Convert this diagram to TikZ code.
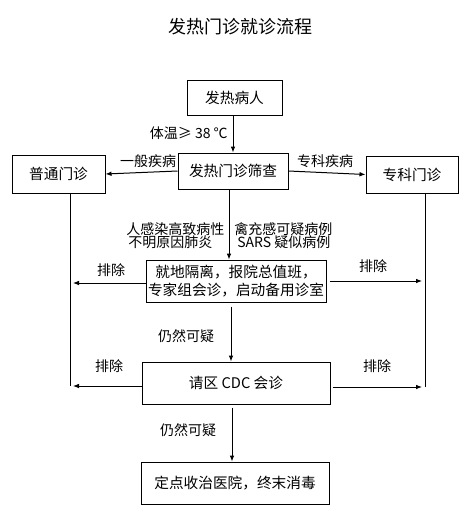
\documentclass[tikz,border=0pt]{standalone}
\usepackage{fontspec}
\setmainfont{Noto Sans CJK SC}
\usetikzlibrary{arrows.meta,calc}
\begin{document}
\begin{tikzpicture}[x=0.75pt,y=-0.75pt,
  box/.style={draw,line width=0.75pt,inner sep=0pt,font=\fontsize{11}{13}\selectfont,align=center},
  lbl/.style={inner sep=0pt,font=\fontsize{10.5}{12}\selectfont},
  arr/.style={line width=0.75pt,-{Latex[length=4.5pt,width=3.5pt]}},
  ln/.style={line width=0.75pt}]
\useasboundingbox (0,0) rectangle (474,521);
\node[inner sep=0pt,font=\fontsize{13.5}{15}\selectfont] (title) at (240,27) {发热门诊就诊流程};
\node[box,minimum width=95*0.75pt,minimum height=35*0.75pt] (fr) at (234.5,97.5) {发热病人};
\node[box,minimum width=110*0.75pt,minimum height=36*0.75pt] (sc) at (233,171) {发热门诊筛查};
\node[box,minimum width=93*0.75pt,minimum height=38*0.75pt] (pt) at (58.5,174) {普通门诊};
\node[box,minimum width=92*0.75pt,minimum height=37*0.75pt] (zk) at (412,174.5) {专科门诊};
\node[box,minimum width=180*0.75pt,minimum height=42*0.75pt] (gl) at (236,281) {就地隔离，报院总值班，\\专家组会诊，启动备用诊室};
\node[box,minimum width=188*0.75pt,minimum height=42*0.75pt] (cdc) at (236,383) {请区 CDC 会诊};
\node[box,minimum width=188*0.75pt,minimum height=42*0.75pt] (dd) at (235,483) {定点收治医院，终末消毒};
\coordinate (L) at (70,386);
\coordinate (R) at (425,387);
\coordinate (c1) at (233,0);
\coordinate (c2) at (229,0);
\coordinate (c3) at (231,0);
\coordinate (c4) at (232,0);
\coordinate (y1) at (0,283);
\coordinate (y2) at (0,281);
% connectors
\draw[arr] (fr.south -| c1) -- (sc.north -| c1);
\draw[arr] (sc.west) -- (pt.east);
\draw[arr] (sc.east) -- (zk.west);
\draw[arr] (sc.south -| c2) -- (gl.north -| c2);
\draw[arr] ($(gl.south -| c3)+(0,4)$) -- (cdc.north -| c3);
\draw[arr] ($(cdc.south -| c4)+(0,3)$) -- (dd.north -| c4);
\draw[ln] (pt.south -| L) -- (L);
\draw[ln] (zk.south -| R) -- (R);
\draw[arr] (gl.west |- y1) -- ($(L |- y1)+(3,0)$);
\draw[arr] ($(gl.east |- y2)+(3,0)$) -- ($(R |- y2)+(-3,0)$);
\draw[arr] (cdc.west |- L) -- ($(L)+(3,0)$);
\draw[arr] ($(cdc.east |- R)+(2,0)$) -- ($(R)+(-3,0)$);
% labels
\node[lbl,anchor=east] (t1) at (228,133) {体温≥ 38 ℃};
\node[lbl] (t2) at (148,161) {一般疾病};
\node[lbl] (t3) at (325,161) {专科疾病};
\node[lbl,anchor=west] (t4) at (126,229) {人感染高致病性};
\node[lbl,anchor=west] (t5) at (128,242) {不明原因肺炎};
\node[lbl,anchor=west] (t6) at (234,229) {禽充感可疑病例};
\node[lbl,anchor=west] (t7) at (237,242) {SARS 疑似病例};
\node[lbl] (t8) at (111,270) {排除};
\node[lbl] (t9) at (373,266) {排除};
\node[lbl] (t10) at (109,366) {排除};
\node[lbl] (t11) at (377,366) {排除};
\node[lbl] (t12) at (186,336) {仍然可疑};
\node[lbl] (t13) at (188,430) {仍然可疑};
\end{tikzpicture}
\end{document}
